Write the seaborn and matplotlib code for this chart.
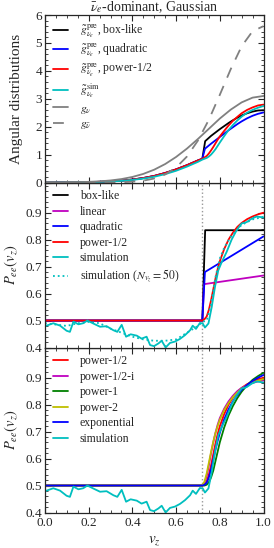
import numpy as np
import pandas as pd
import matplotlib
matplotlib.use("Agg")
import matplotlib.pyplot as plt
import seaborn as sns
from matplotlib.ticker import MultipleLocator

# ---------------- data ----------------
v_grid = [0.0, 0.05, 0.1, 0.15, 0.2, 0.25, 0.3, 0.35, 0.4, 0.45, 0.5, 0.55,
          0.6, 0.65, 0.7, 0.75, 0.8, 0.85, 0.9, 0.95, 1.0]
g_nu = [0.0015, 0.003, 0.0064, 0.0125, 0.023, 0.042, 0.073, 0.123, 0.199, 0.308,
        0.46, 0.661, 0.915, 1.217, 1.56, 1.924, 2.29, 2.61, 2.87, 3.04, 3.1]
g_nubar = [0.0, 0.0, 0.0, 0.0, 0.0005, 0.0015, 0.004, 0.011, 0.028, 0.066, 0.143,
           0.288, 0.537, 0.933, 1.503, 2.25, 3.14, 4.06, 4.88, 5.42, 5.6]

v_low = [0.0, 0.05, 0.1, 0.15, 0.2, 0.25, 0.3, 0.35, 0.4, 0.45, 0.5, 0.55, 0.6,
         0.65, 0.7, 0.72]
gt_low = [0.001, 0.002, 0.004, 0.008, 0.014, 0.024, 0.04, 0.065, 0.105, 0.16,
          0.235, 0.34, 0.47, 0.62, 0.79, 0.85]

v_box_hi = [0.733, 0.76, 0.78, 0.8, 0.82, 0.84, 0.86, 0.88, 0.9, 0.925, 0.95, 0.975, 1.0]
gt_box_hi = [1.48, 1.67, 1.79, 1.91, 2.02, 2.13, 2.23, 2.32, 2.4, 2.48, 2.54, 2.58, 2.59]
v_quad_hi = [0.732, 0.76, 0.78, 0.8, 0.82, 0.84, 0.86, 0.88, 0.9, 0.925, 0.95, 0.975, 1.0]
gt_quad_hi = [1.21, 1.39, 1.51, 1.63, 1.75, 1.87, 1.98, 2.09, 2.19, 2.3, 2.39, 2.46, 2.51]
v_tr = [0.73, 0.74, 0.75, 0.76, 0.77, 0.78, 0.79, 0.8, 0.82, 0.84, 0.86, 0.88, 0.9,
        0.925, 0.95, 0.975, 1.0]
gt_pow_hi = [0.9, 0.95, 1.04, 1.15, 1.27, 1.4, 1.53, 1.65, 1.85, 2.04, 2.21, 2.35,
             2.48, 2.6, 2.69, 2.76, 2.79]
v_sim_top = [0.0, 0.05, 0.1, 0.15, 0.2, 0.25, 0.3, 0.35, 0.4, 0.45, 0.5, 0.55, 0.6,
             0.65, 0.7, 0.72, 0.73, 0.74, 0.75, 0.76, 0.77, 0.78, 0.79, 0.8, 0.82,
             0.84, 0.86, 0.88, 0.9, 0.925, 0.95, 0.975, 1.0]
gt_sim = [0.001, 0.002, 0.004, 0.007, 0.013, 0.022, 0.036, 0.058, 0.092, 0.14, 0.205,
          0.3, 0.42, 0.57, 0.74, 0.82, 0.85, 0.88, 0.93, 1.0, 1.09, 1.19, 1.31, 1.43,
          1.66, 1.88, 2.06, 2.22, 2.36, 2.5, 2.6, 2.68, 2.74]

# Pee curves
v_box = [0.0, 0.72, 0.733, 1.0]
p_box = [0.5, 0.5, 0.835, 0.835]
v_lin = [0.0, 0.72, 0.728, 1.0]
p_lin = [0.5, 0.5, 0.635, 0.667]
v_quad = [0.0, 0.72, 0.732, 1.0]
p_quad = [0.5, 0.5, 0.68, 0.812]
v_smooth = [0.0, 0.72, 0.73, 0.74, 0.75, 0.76, 0.77, 0.78, 0.79, 0.8, 0.82, 0.84,
            0.86, 0.88, 0.9, 0.925, 0.95, 0.975, 1.0]
p_pow_half = [0.5, 0.5, 0.505, 0.515, 0.54, 0.575, 0.615, 0.655, 0.69, 0.72, 0.765,
              0.8, 0.826, 0.847, 0.862, 0.876, 0.886, 0.894, 0.9]
p_pow_half_i = [0.5, 0.5, 0.51, 0.535, 0.575, 0.62, 0.66, 0.695, 0.725, 0.75, 0.785,
                0.812, 0.833, 0.85, 0.862, 0.873, 0.881, 0.886, 0.89]
p_pow_2 = [0.5, 0.5, 0.515, 0.545, 0.585, 0.625, 0.662, 0.694, 0.72, 0.744, 0.78,
           0.806, 0.828, 0.845, 0.859, 0.872, 0.882, 0.889, 0.895]
p_exp = [0.5, 0.5, 0.503, 0.51, 0.53, 0.56, 0.595, 0.632, 0.665, 0.695, 0.745, 0.783,
         0.812, 0.836, 0.855, 0.873, 0.888, 0.9, 0.91]
p_pow_1 = [0.5, 0.5, 0.5, 0.503, 0.512, 0.53, 0.555, 0.59, 0.625, 0.66, 0.715, 0.76,
           0.795, 0.824, 0.848, 0.872, 0.892, 0.906, 0.918]

v_sim = [0.0, 0.038, 0.069, 0.099, 0.114, 0.13, 0.153, 0.175, 0.194, 0.221, 0.252,
         0.282, 0.313, 0.331, 0.351, 0.371, 0.392, 0.42, 0.442, 0.465, 0.481, 0.499,
         0.519, 0.534, 0.552, 0.572, 0.595, 0.618, 0.641, 0.664, 0.676, 0.691, 0.709,
         0.722, 0.732, 0.748, 0.763, 0.778, 0.793, 0.809, 0.831, 0.854, 0.877, 0.9,
         0.923, 0.946, 0.969, 1.0]
p_sim = [0.479, 0.49, 0.481, 0.462, 0.458, 0.496, 0.486, 0.49, 0.5, 0.489, 0.477,
         0.479, 0.464, 0.458, 0.484, 0.44, 0.449, 0.444, 0.433, 0.44, 0.409, 0.405,
         0.415, 0.425, 0.4, 0.417, 0.422, 0.432, 0.446, 0.464, 0.481, 0.469, 0.491,
         0.489, 0.474, 0.489, 0.55, 0.625, 0.686, 0.717, 0.754, 0.8, 0.835, 0.86,
         0.865, 0.878, 0.886, 0.882]
v_sim50 = [0.0, 0.05, 0.1, 0.15, 0.2, 0.25, 0.3, 0.35, 0.4, 0.45, 0.5, 0.55, 0.6,
           0.65, 0.7, 0.72, 0.74, 0.76, 0.78, 0.8, 0.82, 0.85, 0.9, 0.95, 1.0]
p_sim50 = [0.49, 0.485, 0.48, 0.49, 0.495, 0.49, 0.47, 0.455, 0.44, 0.43, 0.425,
           0.425, 0.43, 0.455, 0.48, 0.495, 0.5, 0.56, 0.66, 0.73, 0.77, 0.81, 0.855,
           0.875, 0.885]

v_cross = 0.718

# ---------------- style ----------------
sns.set_style("ticks")
plt.rcParams["font.family"] = ["Liberation Serif", "DejaVu Serif"]
plt.rcParams["mathtext.fontset"] = "stix"
plt.rcParams["xtick.direction"] = "in"
plt.rcParams["ytick.direction"] = "in"
plt.rcParams["xtick.top"] = True
plt.rcParams["ytick.right"] = True

fig = plt.figure(figsize=(2.74, 5.48), dpi=100)
left, right = 45 / 274, 263.5 / 274
h = 165 / 548
b3 = 1 - 512.5 / 548
ax3 = fig.add_axes([left, b3, right - left, h])
ax2 = fig.add_axes([left, b3 + h, right - left, h], sharex=ax3)
ax1 = fig.add_axes([left, b3 + 2 * h, right - left, 167.5 / 548], sharex=ax3)

lw = 1.3
fs_tick = 9.5
fs_leg = 8.5


def line(ax, x, y, color, label=None, ls="-", lw=lw):
    df = pd.DataFrame({"x": x, "y": y})
    sns.lineplot(data=df, x="x", y="y", ax=ax, color=color, label=label,
                 linestyle=ls, linewidth=lw, estimator=None, sort=False)


# top panel
line(ax1, v_low + v_box_hi, gt_low + gt_box_hi, "k",
     r"$\tilde{g}^{\rm pre}_{\nu_e}$, box-like")
line(ax1, v_low + v_quad_hi, gt_low + gt_quad_hi, "b",
     r"$\tilde{g}^{\rm pre}_{\nu_e}$, quadratic")
line(ax1, v_low + v_tr, gt_low + gt_pow_hi, "r",
     r"$\tilde{g}^{\rm pre}_{\nu_e}$, power-1/2")
line(ax1, v_sim_top, gt_sim, "c", r"$\tilde{g}^{\rm sim}_{\nu_e}$")
line(ax1, v_grid, g_nu, "0.5", r"$g_\nu$")
line(ax1, v_grid, g_nubar, "0.5", r"$g_{\bar\nu}$")
ax1.lines[-1].set_dashes([6, 5])
ax1.set_ylim(0, 6)
ax1.set_yticks([0, 1, 2, 3, 4, 5, 6])
ax1.yaxis.set_minor_locator(MultipleLocator(0.2))
ax1.set_ylabel("Angular distributions", fontsize=11)
ax1.set_title(r"$\bar{\nu}_e$-dominant, Gaussian", fontsize=10, pad=1.5)

# middle panel
line(ax2, v_box, p_box, "k", "box-like")
line(ax2, v_lin, p_lin, "m", "linear")
line(ax2, v_quad, p_quad, "b", "quadratic")
line(ax2, v_smooth, p_pow_half, "r", "power-1/2")
line(ax2, v_sim, p_sim, "c", "simulation")
line(ax2, v_sim50, p_sim50, "c", r"simulation ($N_{v_z}=50$)", ls=":")
ax2.axvline(v_cross, color="0.6", ls=":", lw=1.0, zorder=0)

# bottom panel
line(ax3, v_smooth, p_pow_half, "r", "power-1/2")
line(ax3, v_smooth, p_pow_half_i, "m", "power-1/2-i")
line(ax3, v_smooth, p_pow_1, "g", "power-1")
line(ax3, v_smooth, p_pow_2, "y", "power-2")
line(ax3, v_smooth, p_exp, "b", "exponential")
line(ax3, v_sim, p_sim, "c", "simulation")
ax3.axvline(v_cross, color="0.6", ls=":", lw=1.0, zorder=0)

for ax in (ax2, ax3):
    ax.set_ylim(0.4, 1.012)
    ax.set_yticks([0.4, 0.5, 0.6, 0.7, 0.8, 0.9])
    ax.yaxis.set_minor_locator(MultipleLocator(0.02))
    ax.set_ylabel(r"$P_{ee}(v_z)$", fontsize=10.5)
    ax.yaxis.set_label_coords(-0.12, 0.5)

ax1.yaxis.set_label_coords(-0.1, 0.5)

for ax in (ax1, ax2, ax3):
    ax.set_xlim(0, 1)
    ax.set_xticks([0.0, 0.2, 0.4, 0.6, 0.8, 1.0])
    ax.xaxis.set_minor_locator(MultipleLocator(0.05))
    ax.tick_params(which="major", length=4, width=0.8, labelsize=fs_tick,
                   top=True, right=True, pad=2)
    ax.tick_params(which="minor", length=2, width=0.6, top=True, right=True)
    for s in ax.spines.values():
        s.set_linewidth(0.9)

ax1.set_xlabel("")
ax2.set_xlabel("")
ax1.tick_params(labelbottom=False)
ax2.tick_params(labelbottom=False)
ax3.tick_params(axis="x", pad=3)
ax3.set_xlabel(r"$v_z$", fontsize=11, labelpad=4)
ax3.set_xticklabels(["0.0", "0.2", "0.4", "0.6", "0.8", "1.0"])

leg_kw = dict(frameon=False, loc="upper left", fontsize=fs_leg, handlelength=1.3,
              handletextpad=1.0, borderaxespad=0.25, borderpad=0.4)
ax1.legend(labelspacing=0.22, **leg_kw)
ax2.legend(labelspacing=0.3, **leg_kw)
ax3.legend(labelspacing=0.3, **leg_kw)

fig.savefig("out.png", dpi=100)
